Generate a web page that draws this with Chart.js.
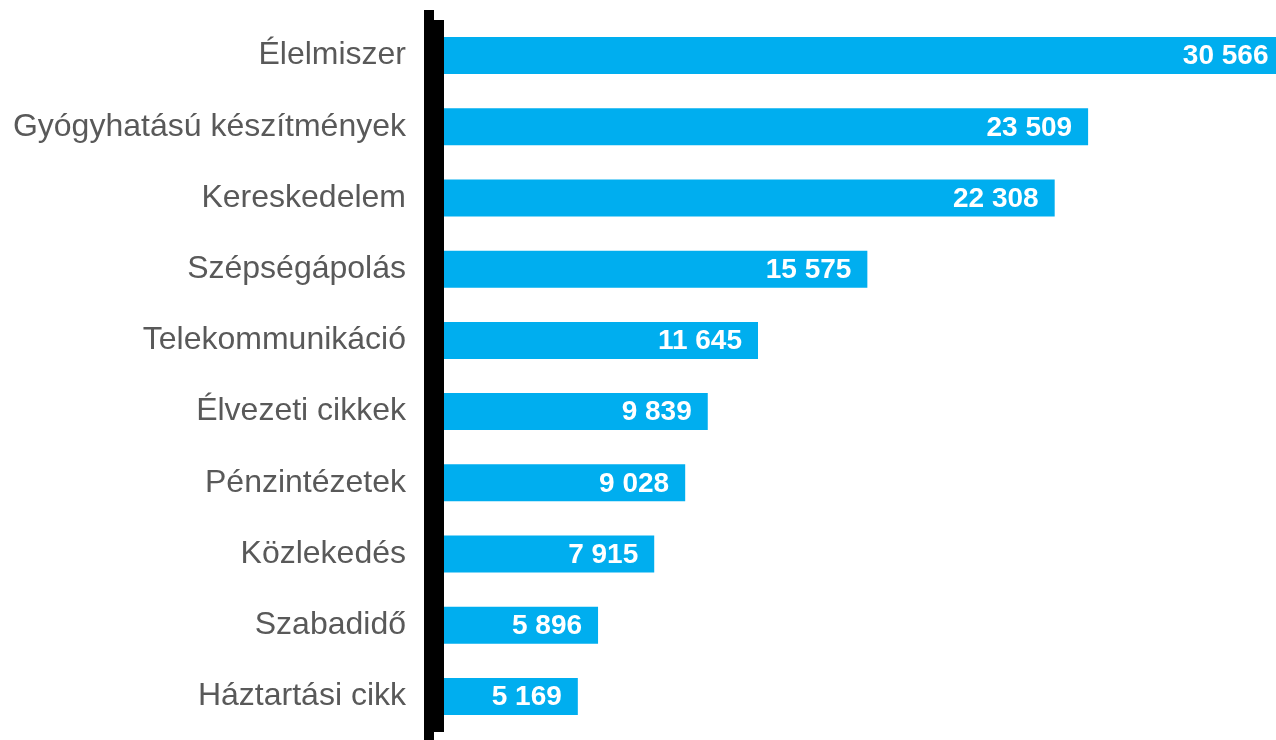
<!DOCTYPE html>
<html>
<head>
<meta charset="utf-8">
<script src="https://cdn.jsdelivr.net/npm/chart.js@4/dist/chart.umd.min.js"></script>
<style>
  html, body { margin: 0; padding: 0; background: #ffffff; }
  #wrap { width: 1276px; height: 740px; position: relative; }
</style>
</head>
<body>
<div id="wrap"><canvas id="c"></canvas></div>
<script>
const categories = [
  "Élelmiszer",
  "Gyógyhatású készítmények",
  "Kereskedelem",
  "Szépségápolás",
  "Telekommunikáció",
  "Élvezeti cikkek",
  "Pénzintézetek",
  "Közlekedés",
  "Szabadidő",
  "Háztartási cikk"
];
const values = [30566, 23509, 22308, 15575, 11645, 9839, 9028, 7915, 5896, 5169];
const xMin = 0;
const xMax = 30262;

function fmt(v) {
  return String(v).replace(/\B(?=(\d{3})+(?!\d))/g, " ");
}

const axisLine = {
  id: 'axisLine',
  afterDatasetsDraw(chart) {
    const ctx = chart.ctx;
    const x0 = chart.scales.x.getPixelForValue(0);
    const a = chart.chartArea;
    ctx.save();
    ctx.fillStyle = '#000000';
    ctx.fillRect(x0 - 10, a.top, 20, a.bottom - a.top);
    ctx.fillRect(x0 - 10, a.top - 10, 10, chart.height - (a.top - 10));
    ctx.restore();
  }
};

const valueLabels = {
  id: 'valueLabels',
  afterDatasetsDraw(chart) {
    const ctx = chart.ctx;
    const meta = chart.getDatasetMeta(0);
    ctx.save();
    ctx.font = 'bold 28px "Liberation Sans", Arial, sans-serif';
    ctx.fillStyle = '#ffffff';
    ctx.textAlign = 'right';
    ctx.textBaseline = 'middle';
    meta.data.forEach((bar, i) => {
      ctx.fillText(fmt(values[i]), bar.x - 16, bar.y + 1);
    });
    ctx.restore();
  }
};

new Chart(document.getElementById('c'), {
  type: 'bar',
  data: {
    labels: categories,
    datasets: [{
      data: values,
      backgroundColor: '#00AEEF',
      borderWidth: 0,
      categoryPercentage: 1.0,
      barPercentage: 0.52
    }]
  },
  options: {
    indexAxis: 'y',
    responsive: true,
    maintainAspectRatio: false,
    animation: false,
    layout: { padding: { top: 20, bottom: 8, left: 0, right: 0 } },
    plugins: {
      legend: { display: false },
      tooltip: { enabled: false }
    },
    scales: {
      x: {
        display: false,
        min: xMin,
        max: xMax
      },
      y: {
        afterFit(scale) {
          scale.width = 434;
          scale.paddingTop = 0;
          scale.paddingBottom = 0;
        },
        grid: { display: false, drawTicks: false },
        border: { display: false },
        ticks: {
          padding: 28,
          color: '#595959',
          font: { family: '"Liberation Sans", Arial, sans-serif', size: 32 }
        }
      }
    }
  },
  plugins: [axisLine, valueLabels]
});
</script>
</body>
</html>
